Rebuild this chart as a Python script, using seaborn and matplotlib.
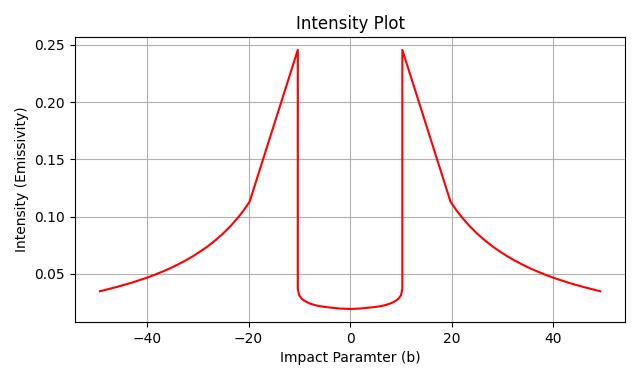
import numpy as np
import pandas as pd
import seaborn as sns
import matplotlib
matplotlib.use("Agg")
import matplotlib.pyplot as plt

# valori (parametro d'impatto b, intensita')
b_vals = [-49.3, -46.0, -43.0, -40.0, -38.5, -37.0, -35.5, -34.0, -32.5, -31.0, -29.5, -28.0,
          -26.5, -25.0, -23.5, -22.0, -21.0, -19.8,
          -10.3, -10.3, -10.2, -10.0, -9.6, -9.1, -8.5, -7.8, -7.0, -6.2, -5.0, -4.0, -2.0, 0.0,
          2.0, 4.0, 5.0, 6.2, 7.0, 7.8, 8.5, 9.1, 9.6, 10.0, 10.2, 10.3, 10.3,
          19.8, 21.0, 22.0, 23.5, 25.0, 26.5, 28.0, 29.5, 31.0, 32.5, 34.0, 35.5,
          37.0, 38.5, 40.0, 43.0, 46.0, 49.3]
intensity = [0.0347, 0.0384, 0.0422, 0.0466, 0.0491, 0.0518, 0.0547, 0.0579, 0.0614, 0.0652, 0.0695, 0.0741,
             0.0794, 0.0852, 0.0919, 0.0995, 0.1052, 0.1129,
             0.2456, 0.0370, 0.0345, 0.0310, 0.0285, 0.0267, 0.0251, 0.0238, 0.0227, 0.0218, 0.0210, 0.0205, 0.0196, 0.0192,
             0.0196, 0.0205, 0.0210, 0.0218, 0.0227, 0.0238, 0.0251, 0.0267, 0.0285, 0.0310, 0.0345, 0.0370, 0.2456,
             0.1129, 0.1052, 0.0995, 0.0919, 0.0852, 0.0794, 0.0741, 0.0695, 0.0652, 0.0614, 0.0579, 0.0547,
             0.0518, 0.0491, 0.0466, 0.0422, 0.0384, 0.0347]

df = pd.DataFrame({"b": b_vals, "I": intensity})

fig, ax = plt.subplots(figsize=(6.4, 3.81), dpi=100)
fig.subplots_adjust(left=0.117, right=0.977, top=0.903, bottom=0.155)

sns.lineplot(data=df, x="b", y="I", sort=False, estimator=None, color="red", linewidth=1.5, ax=ax)

ax.set_title("Intensity Plot")
ax.set_xlabel("Impact Paramter (b)")
ax.set_ylabel("Intensity (Emissivity)")
ax.grid(True)
ax.set_axisbelow(True)

fig.savefig("out.png", dpi=100)
